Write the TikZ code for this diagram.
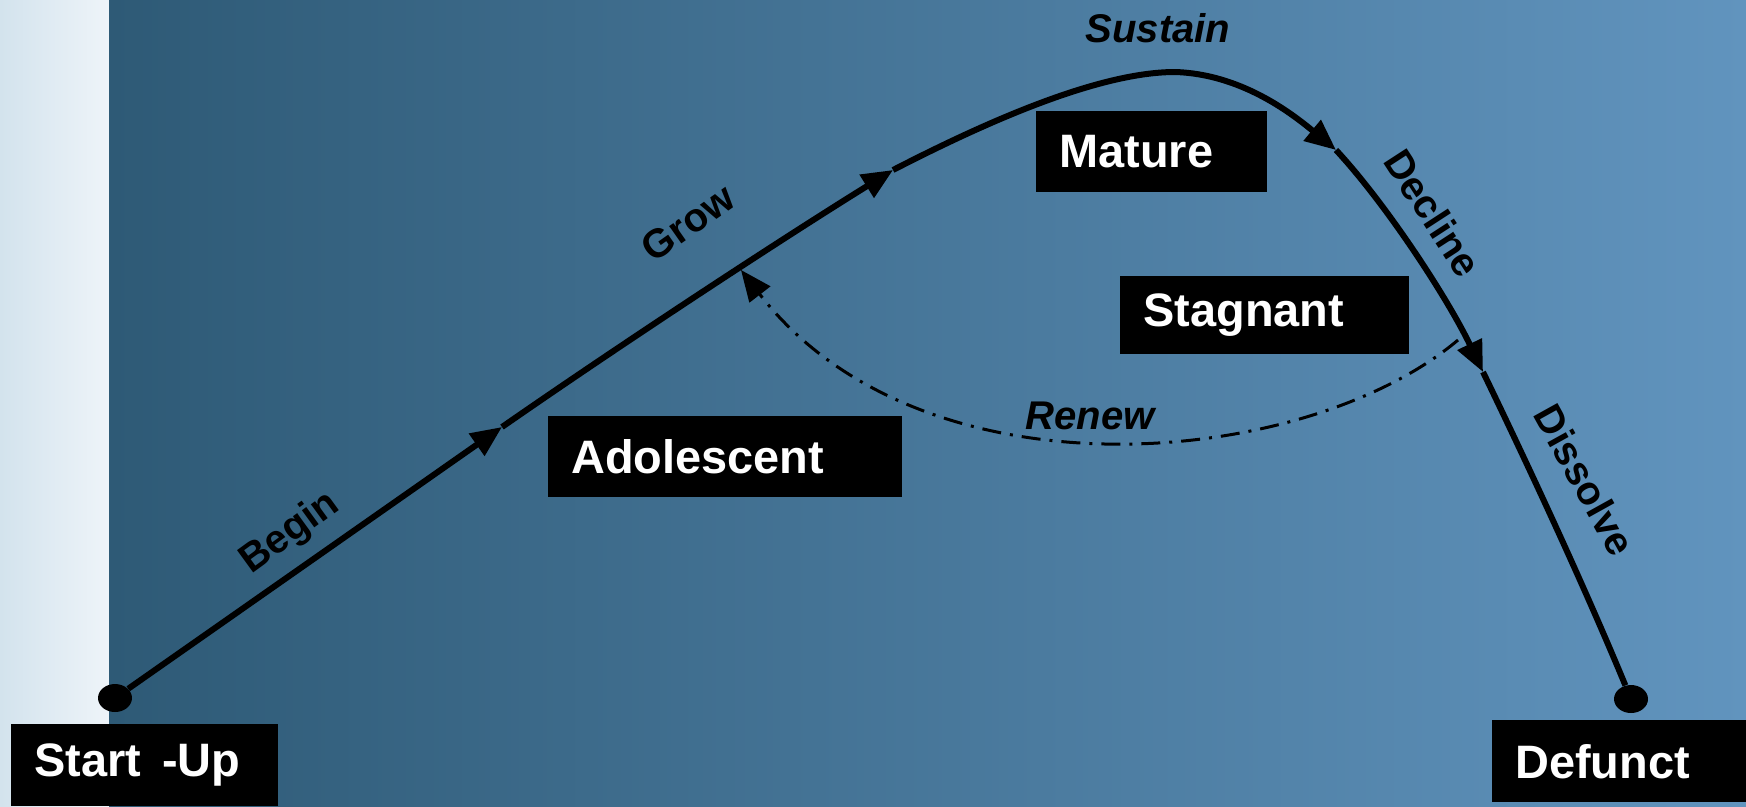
\documentclass[tikz,border=0pt]{standalone}
\usepackage{fontspec}
\setmainfont{Liberation Sans}
\usetikzlibrary{arrows.meta,shapes.geometric}

\definecolor{bgleft}{RGB}{46,90,118}
\definecolor{bgright}{RGB}{97,148,190}
\definecolor{stripleft}{RGB}{211,227,237}
\definecolor{stripright}{RGB}{238,244,249}

\tikzset{
  stage/.style={fill=black,text=white,anchor=north west,align=left,inner xsep=0.46cm,inner ysep=0pt,
    font=\fontsize{26.7}{30}\selectfont\bfseries},
  dot/.style={ellipse,fill=black,minimum width=0.68cm,minimum height=0.56cm,inner sep=0pt},
  life/.style={line width=0.12cm},
  renew/.style={line width=0.06cm,dash pattern=on 0.38cm off 0.18cm on 0.06cm off 0.18cm},
  phase/.style={font=\fontsize{22.8}{26}\selectfont\bfseries},
  phasei/.style={font=\fontsize{22.8}{26}\selectfont\bfseries\itshape}
}

\begin{document}
\begin{tikzpicture}[x=0.02cm,y=-0.02cm,>={Triangle[length=0.62cm,width=0.52cm]}]
\useasboundingbox (0,0) rectangle (1746,806);
% background
\shade[left color=stripleft,right color=stripright] (0,0) rectangle (109,806);
\shade[left color=bgleft,right color=bgright] (109,0) rectangle (1746,806);

% stages
\node[stage,text width=4.42cm,minimum height=1.64cm] (startup) at (11,724) {Start\hspace{0.42cm}-Up};
\node[stage,text width=4.16cm,minimum height=1.64cm] (defunct) at (1492,720) {Defunct};
\node[stage,text width=6.16cm,minimum height=1.62cm] (adolescent) at (548,416) {Adolescent};
\node[stage,text width=3.70cm,minimum height=1.62cm] (mature) at (1036,111) {Mature};
\node[stage,text width=4.86cm,minimum height=1.56cm] (stagnant) at (1120,276) {Stagnant};

\node[dot] (startdot) at (115,698) {};
\node[dot] (enddot) at (1631,699) {};

\coordinate (t1) at (502,427);
\coordinate (t2) at (893,170);
\coordinate (top) at (1175,72);
\coordinate (t3) at (1336,150);
\coordinate (t4) at (1483,372);
\coordinate (renewfrom) at (1458,340);
\coordinate (renewto) at (741,270);

% life curve
\draw[life,->] (startdot) -- (t1);
\draw[life,->] (t1) .. controls (620,345) and (780,240) .. (t2);
\draw[life,->] (t2) .. controls (990,120) and (1100,72) .. (top)
  .. controls (1240,74) and (1290,112) .. (t3);
\draw[life,->] (t3) .. controls (1387,205) and (1448,299) .. (t4);
\draw[life] (t4) .. controls (1540,490) and (1590,600) .. (enddot);
\draw[renew,->] (renewfrom) .. controls (1305,469) and (922,504) .. (renewto);

% phase labels
\node[phase,rotate=36] (begin) at (290,533) {Begin};
\node[phase,rotate=35] (grow) at (688,223) {Grow};
\node[phasei] (sustain) at (1158,28) {Sustain};
\node[phase,rotate=-57] (decline) at (1433,213) {Decline};
\node[phase,rotate=-61] (dissolve) at (1585,480) {Dissolve};
\node[phasei] (renewlabel) at (1090,416) {Renew};
\end{tikzpicture}
\end{document}
